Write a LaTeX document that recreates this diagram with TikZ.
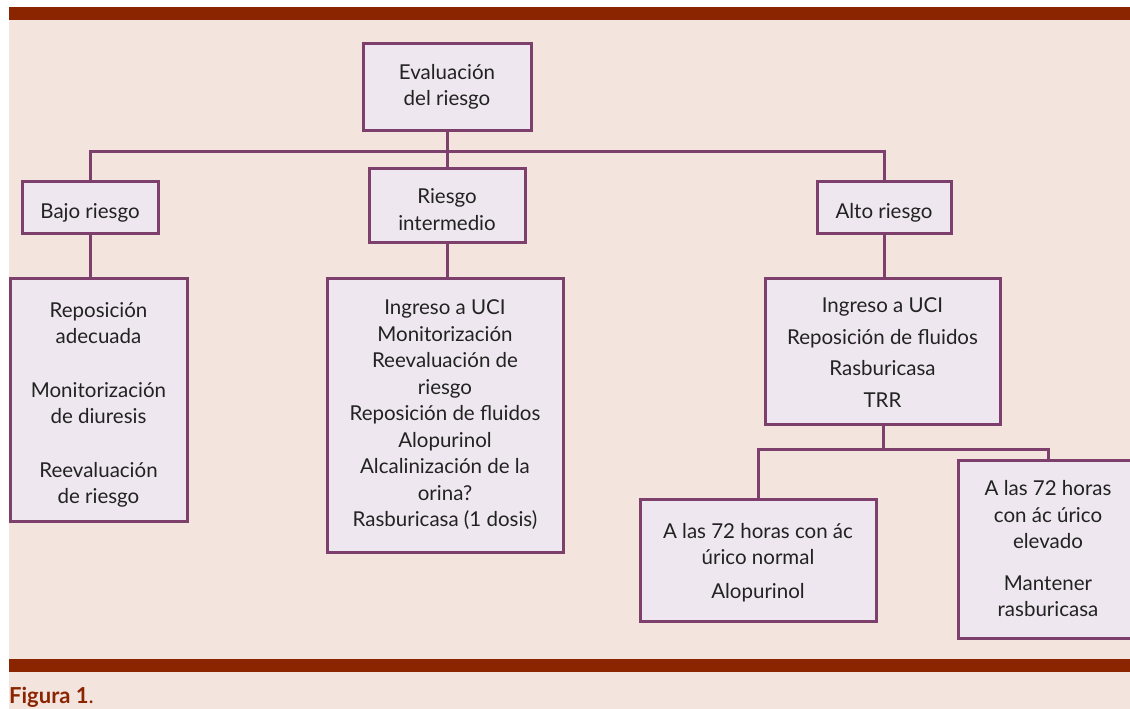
\documentclass[tikz,border=0pt]{standalone}
\usepackage{fontspec}
\setmainfont{Lato}
\usepackage{tikz}
\usetikzlibrary{positioning,calc}
\definecolor{barred}{HTML}{8B2500}
\definecolor{pagebg}{HTML}{F4E4DE}
\definecolor{boxfill}{HTML}{EEE7EF}
\definecolor{boxline}{HTML}{7D3F6B}
\definecolor{txt}{HTML}{222222}
\newcommand{\dropby}[1]{\rule{0pt}{#1}}

\begin{document}
\begin{tikzpicture}[x=1pt,y=-1pt]
\tikzset{every node/.style={font=\fontsize{20.5}{26.5}\selectfont,text=txt,align=center}}
\tikzset{box/.style={draw=boxline,fill=boxfill,line width=3pt,inner sep=0pt}}
\tikzset{link/.style={draw=boxline,line width=3pt}}
\useasboundingbox (0,0) rectangle (1130,709);
% frame
\fill[pagebg] (9,7) rectangle (1130,709);
\fill[barred] (9,7) rectangle (1130,20);
\fill[barred] (9,659) rectangle (1130,672);
\node[anchor=base west,inner sep=0pt,font=\fontsize{22}{24}\selectfont,text=barred] (fig) at (9,703) {\textbf{Figura 1}.};
% first level
\node[box,minimum width=168pt,minimum height=87pt] (eval) at (447,87) {Evaluación\\del riesgo};
\node[box,minimum width=136pt,minimum height=52pt] (bajo) at (90,207) {\dropby{26pt}Bajo riesgo};
\node[box,minimum width=156pt,minimum height=74pt] (inter) at (447,205) {\dropby{24pt}Riesgo\\intermedio};
\node[box,minimum width=134pt,minimum height=52pt] (alto) at (884,207) {\dropby{26pt}Alto riesgo};
\coordinate (bus) at (447,151);
\draw[link] (eval.south) -- (inter.north);
\draw[link] (bajo.north) |- (bus) -| (alto.north);
% measures
\node[box,minimum width=177pt,minimum height=243pt] (bajoM) at (98.5,399.5)
  {\dropby{26pt}Reposición\\adecuada\\[27pt]Monitorización\\de diuresis\\[27pt]Reevaluación\\de riesgo};
\node[box,minimum width=236pt,minimum height=274pt] (interM) at (445,415)
  {Ingreso a UCI\\Monitorización\\Reevaluación de\\riesgo\\Reposición de fluidos\\Alopurinol\\Alcalinización de la\\orina?\\Rasburicasa (1 dosis)};
\node[box,minimum width=235pt,minimum height=146pt] (altoM) at (882.5,351)
  {\dropby{18pt}Ingreso a UCI\\[5pt]Reposición de fluidos\\[5pt]Rasburicasa\\[5pt]TRR};
\draw[link] (bajo.south) -- (bajo.south |- bajoM.north);
\draw[link] (inter.south) -- (inter.south |- interM.north);
\draw[link] (alto.south) -- (alto.south |- altoM.north);
% after 72 h
\node[box,minimum width=236pt,minimum height=122pt] (normal) at (758,560)
  {\dropby{20pt}A las 72 horas con ác\\úrico normal\\[7pt]Alopurinol};
\node[box,minimum width=180pt,minimum height=178pt] (elev) at (1048,549)
  {A las 72 horas\\con ác úrico\\elevado\\[15pt]Mantener\\rasburicasa};
\coordinate (bus2) at (883,449);
\draw[link] (altoM.south -| bus2) -- (bus2);
\draw[link] (normal.north) |- (bus2) -| (elev.north);
\end{tikzpicture}
\end{document}
